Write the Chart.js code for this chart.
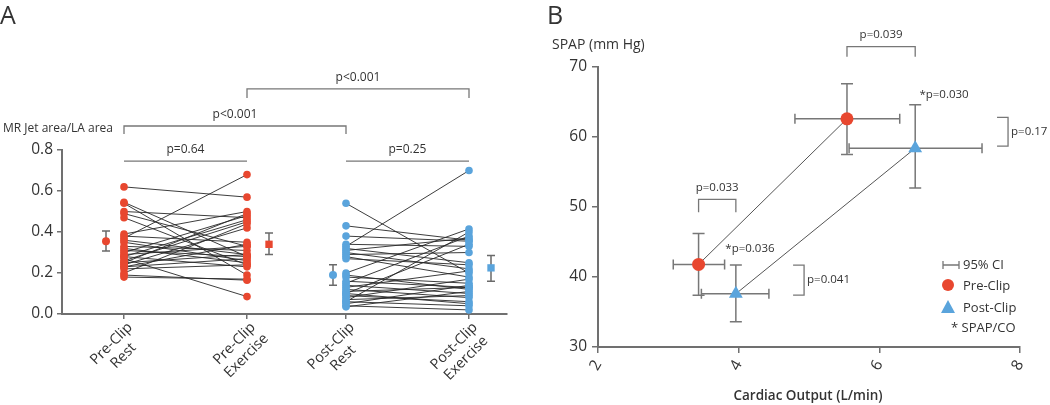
<!DOCTYPE html>
<html lang="en">
<head>
<meta charset="UTF-8">
<title>MR jet area and SPAP vs cardiac output</title>
<style>
    body { margin: 0; background: #fff; font-family: "Open Sans", sans-serif; }
    #wrap { position: relative; width: 1050px; height: 405px; overflow: hidden; }
    #chartA { position: absolute; left: 0; top: 0; }
    #chartB { position: absolute; left: 530px; top: 0; }
</style>
<script src="https://cdn.jsdelivr.net/npm/chart.js"></script>
</head>
<body>
<div id="wrap">
    <canvas id="chartA" width="530" height="405" style="width:530px;height:405px"></canvas>
    <canvas id="chartB" width="520" height="405" style="width:520px;height:405px"></canvas>
</div>
<script>
// ---- panel A data ----
const catLabels = [['Pre-Clip', 'Rest'], ['Pre-Clip', 'Exercise'], ['Post-Clip', 'Rest'], ['Post-Clip', 'Exercise']];
const catX = [62, 185, 284, 407];      // category positions on the x scale
const meanX = [44, 207, 271, 429];     // where the mean +/- CI markers sit
const yTicksA = [0, 0.2, 0.4, 0.6, 0.8];

const preRest = [0.62, 0.545, 0.54, 0.50, 0.49, 0.47, 0.39, 0.37, 0.38, 0.36, 0.35, 0.33, 0.32, 0.30, 0.29,
                 0.28, 0.27, 0.26, 0.25, 0.24, 0.23, 0.22, 0.20, 0.19, 0.18, 0.25, 0.28, 0.31, 0.23];
const preEx   = [0.57, 0.28, 0.19, 0.47, 0.33, 0.24, 0.50, 0.68, 0.35, 0.29, 0.26, 0.31, 0.25, 0.48, 0.33,
                 0.23, 0.085, 0.45, 0.49, 0.42, 0.27, 0.24, 0.44, 0.165, 0.17, 0.29, 0.46, 0.28, 0.34];
const postRest = [0.54, 0.43, 0.38, 0.34, 0.33, 0.32, 0.31, 0.30, 0.29, 0.28, 0.27, 0.20, 0.19, 0.18, 0.15,
                  0.14, 0.13, 0.12, 0.11, 0.10, 0.09, 0.08, 0.07, 0.06, 0.05, 0.04, 0.035, 0.10, 0.06, 0.16];
const postEx   = [0.20, 0.36, 0.355, 0.33, 0.70, 0.25, 0.37, 0.22, 0.30, 0.18, 0.24, 0.415, 0.12, 0.15, 0.38,
                  0.10, 0.21, 0.08, 0.13, 0.34, 0.06, 0.17, 0.09, 0.04, 0.14, 0.02, 0.11, 0.05, 0.40, 0.13];

const meanVal  = [0.355, 0.34, 0.19, 0.225];
const meanLow  = [0.307, 0.29, 0.14, 0.16];
const meanHigh = [0.405, 0.395, 0.24, 0.285];

// ---- panel B data ----
const preCO      = [3.43, 5.54];
const preCOLow   = [3.07, 4.80];
const preCOHigh  = [3.80, 6.29];
const preSPAP    = [41.8, 62.6];
const preSPAPLow = [37.4, 57.5];
const preSPAPHigh = [46.2, 67.6];

const postCO      = [3.96, 6.51];
const postCOLow   = [3.47, 5.57];
const postCOHigh  = [4.43, 7.46];
const postSPAP    = [37.6, 58.4];
const postSPAPLow = [33.6, 52.7];
const postSPAPHigh = [41.7, 64.6];

const RED = '#e8472f';
const BLUE = '#5aa4dc';
const AXIS = '#707070';
const TEXT = '#333';
const FONT = '"Open Sans", sans-serif';

Chart.defaults.font.family = FONT;
Chart.defaults.color = TEXT;

// ================= Panel A =================
const pairSets = [];
preRest.forEach((v, i) => {
    pairSets.push({ data: [{ x: catX[0], y: v }, { x: catX[1], y: preEx[i] }] });
});
postRest.forEach((v, i) => {
    pairSets.push({ data: [{ x: catX[2], y: v }, { x: catX[3], y: postEx[i] }] });
});
pairSets.forEach(ds => {
    ds.showLine = true;
    ds.borderColor = 'rgba(40,40,40,0.9)';
    ds.borderWidth = 1;
    ds.pointRadius = 0;
    ds.order = 2;
});

function dots(xv, vals, color) {
    return {
        data: vals.map(v => ({ x: xv, y: v })),
        showLine: false,
        pointRadius: 3.8,
        backgroundColor: color,
        borderWidth: 0,
        order: 0
    };
}

const meanSet = {
    data: meanVal.map((v, i) => ({ x: meanX[i], y: v })),
    showLine: false,
    pointStyle: ['circle', 'rect', 'circle', 'rect'],
    pointRadius: [4, 5.2, 4, 5.2],
    backgroundColor: [RED, RED, BLUE, BLUE],
    borderWidth: 0,
    order: 0
};

const bracketsA = [
    { from: 0, to: 1, y: 0.746, tick: 0, label: 'p=0.64' },
    { from: 2, to: 3, y: 0.746, tick: 0, label: 'p=0.25' },
    { from: 0, to: 2, y: 0.917, tick: 8, label: 'p<0.001' },
    { from: 1, to: 3, y: 1.098, tick: 9, label: 'p<0.001' }
];

const panelAPlugin = {
    id: 'panelA',
    beforeDatasetsDraw(chart) {
        const { ctx, scales: { x, y } } = chart;
        ctx.save();
        ctx.strokeStyle = '#6a6a6a';
        ctx.lineWidth = 1.5;
        meanX.forEach((mx, i) => {
            const px = x.getPixelForValue(mx);
            const top = y.getPixelForValue(meanHigh[i]);
            const bot = y.getPixelForValue(meanLow[i]);
            ctx.beginPath();
            ctx.moveTo(px, top); ctx.lineTo(px, bot);
            ctx.moveTo(px - 4, top); ctx.lineTo(px + 4, top);
            ctx.moveTo(px - 4, bot); ctx.lineTo(px + 4, bot);
            ctx.stroke();
        });
        ctx.restore();
    },
    afterDraw(chart) {
        const { ctx, scales: { x, y } } = chart;
        ctx.save();
        // brackets
        ctx.strokeStyle = '#777';
        ctx.lineWidth = 1.3;
        ctx.fillStyle = TEXT;
        ctx.font = '12px ' + FONT;
        ctx.textAlign = 'center';
        ctx.textBaseline = 'middle';
        bracketsA.forEach(b => {
            const x1 = x.getPixelForValue(catX[b.from]);
            const x2 = x.getPixelForValue(catX[b.to]);
            const py = y.getPixelForValue(b.y);
            ctx.beginPath();
            ctx.moveTo(x1, py + b.tick); ctx.lineTo(x1, py);
            ctx.lineTo(x2, py); ctx.lineTo(x2, py + b.tick);
            ctx.stroke();
            ctx.fillText(b.label, (x1 + x2) / 2, py - 11);
        });
        // category labels, rotated 45 degrees, centred lines
        ctx.font = '14.5px ' + FONT;
        ctx.fillStyle = TEXT;
        catLabels.forEach((lines, i) => {
            const px = x.getPixelForValue(catX[i]);
            ctx.save();
            ctx.translate(px + 1, y.bottom + 6);
            ctx.rotate(-Math.PI / 4);
            const w1 = ctx.measureText(lines[0]).width;
            ctx.textAlign = 'center';
            ctx.textBaseline = 'top';
            lines.forEach((l, j) => ctx.fillText(l, -w1 / 2, j * 17));
            ctx.restore();
        });
        // titles
        ctx.textAlign = 'left';
        ctx.textBaseline = 'middle';
        ctx.font = '12px ' + FONT;
        ctx.fillText('MR Jet area/LA area', 3, 129);
        ctx.font = '500 25px ' + FONT;
        ctx.fillText('A', 0, 17);
        ctx.restore();
    }
};

new Chart(document.getElementById('chartA'), {
    type: 'scatter',
    data: {
        datasets: [
            dots(catX[0], preRest, RED),
            dots(catX[1], preEx, RED),
            dots(catX[2], postRest, BLUE),
            dots(catX[3], postEx, BLUE),
            meanSet,
            ...pairSets
        ]
    },
    options: {
        responsive: false,
        animation: false,
        layout: { padding: { top: 150, right: 23, left: 0, bottom: 0 } },
        plugins: { legend: { display: false }, tooltip: { enabled: false } },
        scales: {
            x: {
                type: 'linear', min: 0, max: 445,
                afterBuildTicks: s => { s.ticks = catX.map(v => ({ value: v })); },
                afterFit: s => { s.height = 91; s.paddingLeft = 0; s.paddingRight = 0; },
                ticks: { display: false },
                grid: { drawOnChartArea: false, color: AXIS, tickLength: 5, lineWidth: 1.5 },
                border: { color: AXIS, width: 2 }
            },
            y: {
                min: 0, max: 0.8,
                afterBuildTicks: s => { s.ticks = yTicksA.map(v => ({ value: v })); },
                afterFit: s => { s.width = 62; s.paddingTop = 0; s.paddingBottom = 0; },
                ticks: { font: { size: 15.5 }, color: TEXT, padding: 4, callback: v => v.toFixed(1) },
                grid: { drawOnChartArea: false, color: AXIS, tickLength: 5, lineWidth: 1.5 },
                border: { color: AXIS, width: 2 }
            }
        }
    },
    plugins: [panelAPlugin]
});

// ================= Panel B =================
const bracketsB = [
    { kind: 'h', a: preCO[1], b: postCO[1], at: 72.9, tick: 10, label: 'p=0.039' },
    { kind: 'h', a: preCO[0], b: postCO[0], at: 51.1, tick: 13, label: 'p=0.033' },
    { kind: 'v', a: 62.8, b: 58.7, at: 7.83, tick: 11, label: 'p=0.17' },
    { kind: 'v', a: 41.7, b: 37.4, at: 4.93, tick: 11, label: 'p=0.041' }
];
const notesB = [
    { x: 6.57, y: 66.0, label: '*p=0.030' },
    { x: 3.81, y: 44.1, label: '*p=0.036' }
];

function drawCross(ctx, x, y, cx, cy, cxl, cxh, cyl, cyh) {
    const px = x.getPixelForValue(cx), py = y.getPixelForValue(cy);
    const xl = x.getPixelForValue(cxl), xh = x.getPixelForValue(cxh);
    const yl = y.getPixelForValue(cyl), yh = y.getPixelForValue(cyh);
    ctx.beginPath();
    ctx.moveTo(xl, py); ctx.lineTo(xh, py);
    ctx.moveTo(xl, py - 5); ctx.lineTo(xl, py + 5);
    ctx.moveTo(xh, py - 5); ctx.lineTo(xh, py + 5);
    ctx.moveTo(px, yl); ctx.lineTo(px, yh);
    ctx.moveTo(px - 6, yl); ctx.lineTo(px + 6, yl);
    ctx.moveTo(px - 6, yh); ctx.lineTo(px + 6, yh);
    ctx.stroke();
}

const panelBPlugin = {
    id: 'panelB',
    beforeDatasetsDraw(chart) {
        const { ctx, scales: { x, y } } = chart;
        ctx.save();
        ctx.strokeStyle = '#777';
        ctx.lineWidth = 1.5;
        preCO.forEach((c, i) => drawCross(ctx, x, y, c, preSPAP[i], preCOLow[i], preCOHigh[i], preSPAPLow[i], preSPAPHigh[i]));
        postCO.forEach((c, i) => drawCross(ctx, x, y, c, postSPAP[i], postCOLow[i], postCOHigh[i], postSPAPLow[i], postSPAPHigh[i]));
        ctx.restore();
    },
    afterDraw(chart) {
        const { ctx, scales: { x, y } } = chart;
        ctx.save();
        ctx.strokeStyle = '#777';
        ctx.lineWidth = 1.3;
        ctx.fillStyle = TEXT;
        ctx.font = '11.5px ' + FONT;
        ctx.textBaseline = 'middle';
        bracketsB.forEach(b => {
            ctx.beginPath();
            if (b.kind === 'h') {
                const x1 = x.getPixelForValue(b.a), x2 = x.getPixelForValue(b.b), py = y.getPixelForValue(b.at);
                ctx.moveTo(x1, py + b.tick); ctx.lineTo(x1, py); ctx.lineTo(x2, py); ctx.lineTo(x2, py + b.tick);
                ctx.stroke();
                ctx.textAlign = 'center';
                ctx.fillText(b.label, (x1 + x2) / 2, py - 12);
            } else {
                const y1 = y.getPixelForValue(b.a), y2 = y.getPixelForValue(b.b), px = x.getPixelForValue(b.at);
                ctx.moveTo(px - b.tick, y1); ctx.lineTo(px, y1); ctx.lineTo(px, y2); ctx.lineTo(px - b.tick, y2);
                ctx.stroke();
                ctx.textAlign = 'left';
                ctx.fillText(b.label, px + 3, (y1 + y2) / 2);
            }
        });
        ctx.textAlign = 'left';
        notesB.forEach(n => ctx.fillText(n.label, x.getPixelForValue(n.x), y.getPixelForValue(n.y)));

        // legend
        ctx.beginPath();
        ctx.moveTo(413, 265); ctx.lineTo(429, 265);
        ctx.moveTo(413, 261); ctx.lineTo(413, 269);
        ctx.moveTo(429, 261); ctx.lineTo(429, 269);
        ctx.stroke();
        ctx.fillStyle = RED;
        ctx.beginPath(); ctx.arc(418, 285, 6, 0, Math.PI * 2); ctx.fill();
        ctx.fillStyle = BLUE;
        ctx.beginPath(); ctx.moveTo(418, 300); ctx.lineTo(425, 313); ctx.lineTo(411, 313); ctx.closePath(); ctx.fill();
        ctx.fillStyle = TEXT;
        ctx.font = '13px ' + FONT;
        ctx.fillText('95% CI', 433, 265);
        ctx.fillText('Pre-Clip', 433, 286);
        ctx.fillText('Post-Clip', 433, 308);
        ctx.fillText('* SPAP/CO', 421, 328);

        // titles
        ctx.font = '14px ' + FONT;
        ctx.fillText('SPAP (mm Hg)', 22, 45);
        ctx.font = '500 25px ' + FONT;
        ctx.fillText('B', 17, 17);
        ctx.font = '600 13.5px ' + FONT;
        ctx.textAlign = 'center';
        ctx.fillText('Cardiac Output (L/min)', 278, 396);
        ctx.restore();
    }
};

new Chart(document.getElementById('chartB'), {
    type: 'scatter',
    data: {
        datasets: [
            {
                label: 'Pre-Clip',
                data: preCO.map((c, i) => ({ x: c, y: preSPAP[i] })),
                showLine: true,
                borderColor: '#555',
                borderWidth: 1,
                pointRadius: 6.5,
                pointStyle: 'circle',
                backgroundColor: RED,
                pointBorderWidth: 0
            },
            {
                label: 'Post-Clip',
                data: postCO.map((c, i) => ({ x: c, y: postSPAP[i] })),
                showLine: true,
                borderColor: '#555',
                borderWidth: 1,
                pointRadius: 8,
                pointStyle: 'triangle',
                backgroundColor: BLUE,
                pointBorderWidth: 0
            }
        ]
    },
    options: {
        responsive: false,
        animation: false,
        layout: { padding: { top: 67, right: 30, left: 0, bottom: 0 } },
        plugins: { legend: { display: false }, tooltip: { enabled: false } },
        scales: {
            x: {
                type: 'linear', min: 2, max: 8,
                ticks: { stepSize: 2, font: { size: 15.5 }, color: TEXT, minRotation: 60, maxRotation: 60, padding: 4 },
                afterFit: s => { s.height = 58; s.paddingLeft = 0; s.paddingRight = 0; },
                grid: { drawOnChartArea: false, color: AXIS, tickLength: 6, lineWidth: 1.5 },
                border: { color: AXIS, width: 2 }
            },
            y: {
                min: 30, max: 70,
                ticks: { stepSize: 10, font: { size: 15.5 }, color: TEXT, padding: 5 },
                afterFit: s => { s.width = 68; s.paddingTop = 0; s.paddingBottom = 0; },
                grid: { drawOnChartArea: false, color: AXIS, tickLength: 6, lineWidth: 1.5 },
                border: { color: AXIS, width: 2 }
            }
        }
    },
    plugins: [panelBPlugin]
});
</script>
</body>
</html>
